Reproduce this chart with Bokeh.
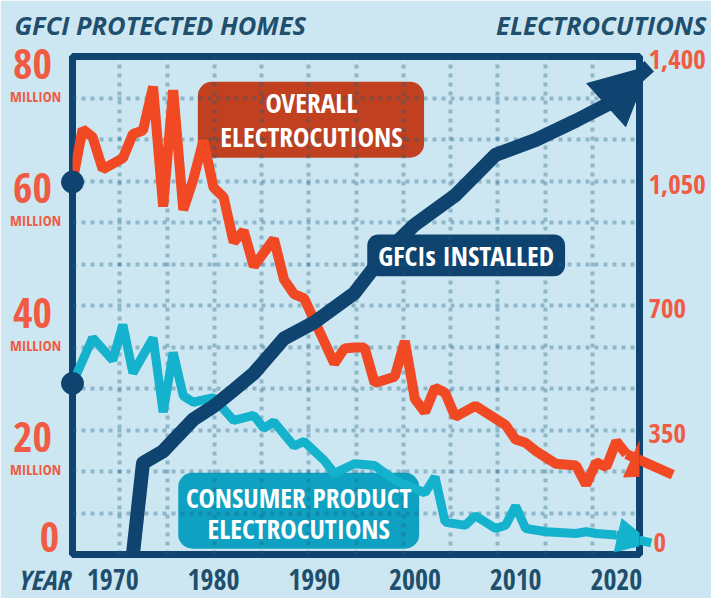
from bokeh.plotting import figure
from bokeh.models import Range1d, FixedTicker, BoxAnnotation, Arrow, NormalHead, Grid
from bokeh.core.properties import value
from bokeh.embed import file_html
from bokeh.resources import INLINE

# ---------------- data ----------------
overall_years = [1966, 1967, 1968, 1969, 1971, 1972, 1973, 1974, 1975, 1976, 1977, 1978,
                 1979, 1980, 1981, 1982, 1983, 1984, 1986, 1987, 1988, 1989, 1992, 1993,
                 1994, 1995, 1996, 1998, 1999, 2000, 2001, 2002, 2003, 2004, 2006, 2007,
                 2009, 2010, 2011, 2012, 2014, 2016, 2017, 2018, 2019, 2020, 2021]
overall_electrocutions = [1047, 1196, 1173, 1083, 1114, 1182, 1192, 1315, 978, 1305, 969, 1055,
                          1164, 1032, 1005, 878, 910, 810, 887, 773, 732, 720, 537, 579,
                          582, 582, 482, 500, 600, 437, 400, 469, 455, 387, 418, 400,
                          364, 323, 314, 291, 255, 250, 196, 259, 246, 318, 282]

consumer_years = [1966, 1968, 1970, 1971, 1972, 1974, 1975, 1976, 1977, 1978, 1980, 1982,
                  1984, 1985, 1986, 1988, 1989, 1991, 1992, 1994, 1996, 1998, 2001, 2002,
                  2003, 2005, 2006, 2008, 2009, 2010, 2011, 2013, 2016, 2017, 2018, 2020]
consumer_electrocutions = [481, 609, 546, 646, 510, 609, 400, 568, 446, 428, 441, 377,
                           391, 355, 373, 305, 318, 264, 228, 255, 250, 209, 173, 218,
                           91, 82, 109, 73, 82, 136, 73, 64, 59, 64, 59, 55]

gfci_years = [1972, 1973, 1975, 1978, 1980, 1982, 1984, 1987, 1990, 1994, 1997, 2000,
              2004, 2008, 2012, 2016, 2019, 2020]
gfci_homes_millions = [0, 14.7, 16.6, 21.7, 23.8, 26.4, 29.1, 34.7, 37.3, 42.0, 48.3, 53.0,
                       57.7, 64.2, 66.6, 69.7, 72.2, 72.8]

year_ticks = [1970, 1980, 1990, 2000, 2010, 2020]
year_labels = ["1970", "1980", "1990", "2000", "2010", "2020"]
left_ticks = [0, 20, 40, 60, 80]
left_labels = ["0", "20", "40", "60", "80"]
right_ticks = [0, 350, 700, 1050, 1400]
right_labels = ["0", "350", "700", "1,050", "1,400"]

# ---------------- styling / layout ----------------
BG = "#cde7f2"
NAVY = "#0f4470"
ORANGE = "#f04923"
ORANGE_LBL = "#f05b44"
CYAN = "#14b2cc"
BOX_OR = "#c1401f"
BOX_NAVY = "#0f436f"
BOX_CY = "#0ea1c1"
DARK = "#1f4f6d"
COND = value("'Noto Sans Condensed', 'Open Sans Condensed', 'DejaVu Sans Condensed', "
             "'Roboto Condensed', 'Liberation Sans Narrow', Roboto, sans-serif")
SANS = value("'Open Sans', sans-serif")

W, H = 711, 598
X0, X1 = 1966, 2022.3
Y0, Y1 = 0, 1400
M0, M1 = 0, 80
# frame edges in reference-picture pixels (727 x 614), used to place decorations
FL, FR, FT, FB = 74, 653, 57, 569
SX, SY = W / 727, H / 614


def X(px):
    return X0 + (px - FL) * (X1 - X0) / (FR - FL)


def Y(py):
    return Y0 + (FB - py) * (Y1 - Y0) / (FB - FT)


def M(py):
    return M0 + (FB - py) * (M1 - M0) / (FB - FT)


bl, br = round(FL * SX), W - round(FR * SX)
bt, bb = round(FT * SY), H - round(FB * SY)

p = figure(width=W, height=H, x_range=Range1d(X0, X1), y_range=Range1d(Y0, Y1),
           x_axis_location=None, y_axis_location=None,
           output_backend="svg", toolbar_location=None,
           min_border_left=bl, min_border_right=br, min_border_top=bt, min_border_bottom=bb)
p.extra_y_ranges = {"m": Range1d(M0, M1)}
p.background_fill_color = BG
p.border_fill_color = BG
p.outline_line_color = NAVY
p.outline_line_width = 7
p.grid.visible = False

# dotted grid: 12 equal divisions each way
vgrid = Grid(dimension=0, ticker=FixedTicker(ticks=[X0 + i * (X1 - X0) / 12 for i in range(1, 12)]))
hgrid = Grid(dimension=1, ticker=FixedTicker(ticks=[Y0 + i * (Y1 - Y0) / 12 for i in range(1, 12)]))
for g in (vgrid, hgrid):
    g.grid_line_color = "#1f5c80"
    g.grid_line_alpha = 0.35
    g.grid_line_width = 4
    g.grid_line_dash = "4 5"
    p.add_layout(g, "center")

# label boxes (below the grid)
p.add_layout(BoxAnnotation(left=X(202), right=X(433), top=Y(83), bottom=Y(161),
                           fill_color=BOX_OR, fill_alpha=1, line_alpha=0,
                           border_radius=14, level="image"))
p.add_layout(BoxAnnotation(left=X(375), right=X(577), top=Y(240), bottom=Y(283),
                           fill_color=BOX_NAVY, fill_alpha=1, line_alpha=0,
                           border_radius=11, level="image"))
p.add_layout(BoxAnnotation(left=X(182), right=X(428), top=Y(485), bottom=Y(563),
                           fill_color=BOX_CY, fill_alpha=1, line_alpha=0,
                           border_radius=14, level="image"))

# series lines
p.line(consumer_years, consumer_electrocutions, line_color=CYAN, line_width=9, line_join="bevel")
p.line(overall_years, overall_electrocutions, line_color=ORANGE, line_width=10, line_join="bevel")
p.line(gfci_years, gfci_homes_millions, y_range_name="m", line_color=NAVY, line_width=14,
       line_join="round", line_cap="round")

# arrow heads at the ends of the series
p.add_layout(Arrow(x_start=consumer_years[-1], y_start=consumer_electrocutions[-1],
                   x_end=X(665), y_end=Y(557), line_color=CYAN, line_width=9,
                   end=NormalHead(size=34, fill_color=CYAN, line_color=CYAN, line_width=1)))
p.add_layout(Arrow(x_start=overall_years[-1], y_start=overall_electrocutions[-1],
                   x_end=X(687), y_end=Y(487), line_color=ORANGE, line_width=10,
                   end=NormalHead(size=44, fill_color=ORANGE, line_color=ORANGE, line_width=1)))
p.add_layout(Arrow(x_start=gfci_years[-2], y_start=gfci_homes_millions[-2],
                   x_end=X(663), y_end=M(67), y_range_name="m", line_color=NAVY, line_width=14,
                   end=NormalHead(size=58, fill_color=NAVY, line_color=NAVY, line_width=1)))

# start markers on the left axis
p.scatter([overall_years[0], consumer_years[0]],
          [overall_electrocutions[0], consumer_electrocutions[0]],
          size=22, color=NAVY, level="overlay")

# texts inside the boxes (centred on the cap height)
box_txt = dict(text_color="white", text_font=COND, text_font_style="bold",
               text_font_size="27.5px", text_align="center", text_baseline="middle")
p.text([X(318)], [Y(104)], text=["OVERALL"], **box_txt)
p.text([X(318)], [Y(139)], text=["ELECTROCUTIONS"], **box_txt)
p.text([X(476)], [Y(262)], text=["GFCIs INSTALLED"], **box_txt)
p.text([X(305)], [Y(510)], text=["CONSUMER PRODUCT"], **box_txt)
p.text([X(305)], [Y(542)], text=["ELECTROCUTIONS"], **box_txt)

# left axis (millions of GFCI protected homes)
nz = [i for i, t in enumerate(left_ticks) if t != 0]
z = [i for i, t in enumerate(left_ticks) if t == 0]
lnum = dict(text_color=ORANGE_LBL, text_font=COND, text_font_style="bold",
            text_font_size="42px", text_align="center", text_baseline="middle",
            y_range_name="m", level="overlay")
p.text([X0] * len(nz), [left_ticks[i] for i in nz], text=[left_labels[i] for i in nz],
       x_offset=-40, y_offset=7, **lnum)
p.text([X0] * len(nz), [left_ticks[i] for i in nz], text=["MILLION"] * len(nz),
       x_offset=-37, y_offset=39, text_color=ORANGE_LBL, text_font=COND,
       text_font_style="bold", text_font_size="15px", text_align="center",
       text_baseline="middle", y_range_name="m", level="overlay")
p.text([X0] * len(z), [left_ticks[i] for i in z], text=[left_labels[i] for i in z],
       x_offset=-23, y_offset=-18, **lnum)

# right axis (electrocutions)
rnum = dict(text_color=ORANGE_LBL, text_font=COND, text_font_style="bold",
            text_font_size="27px", text_align="left", text_baseline="middle",
            level="overlay")
rnz = [i for i, t in enumerate(right_ticks) if t != 0]
rz = [i for i, t in enumerate(right_ticks) if t == 0]
p.text([X1] * len(rnz), [right_ticks[i] for i in rnz], text=[right_labels[i] for i in rnz],
       x_offset=9, y_offset=3, **rnum)
p.text([X1] * len(rz), [right_ticks[i] for i in rz], text=[right_labels[i] for i in rz],
       x_offset=14, y_offset=-12, **rnum)

# bottom axis (years)
p.text(year_ticks, [Y0] * len(year_ticks), text=year_labels, y_offset=25,
       text_color=DARK, text_font=COND, text_font_style="bold", text_font_size="28px",
       text_align="center", text_baseline="middle", level="overlay")
p.text([X0], [Y0], text=["YEAR"], x_offset=-55, y_offset=25,
       text_color=DARK, text_font=COND, text_font_style="bold italic", text_font_size="27px",
       text_align="left", text_baseline="middle", level="overlay")

# axis titles
p.text([X0], [Y1], text=["GFCI PROTECTED HOMES"], x_offset=-58, y_offset=-32,
       text_color=DARK, text_font=SANS, text_font_style="bold italic", text_font_size="25.5px",
       text_align="left", text_baseline="middle", level="overlay")
p.text([X1], [Y1], text=["ELECTROCUTIONS"], x_offset=67, y_offset=-32,
       text_color=DARK, text_font=SANS, text_font_style="bold italic", text_font_size="25.5px",
       text_align="right", text_baseline="middle", level="overlay")

open("out.html", "w").write(file_html(p, INLINE))
